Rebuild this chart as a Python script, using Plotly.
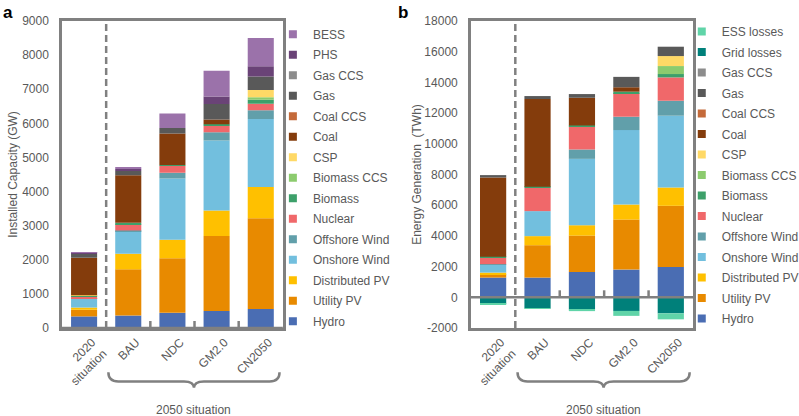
import plotly.graph_objects as go

# ---- data -------------------------------------------------------------
CATEGORIES = ["2020<br>situation", "BAU", "NDC", "GM2.0", "CN2050"]

# installed capacity (GW)
cap_hydro = [340, 365, 445, 500, 560]
cap_utility_pv = [195, 1355, 1600, 2195, 2660]
cap_distributed_pv = [65, 455, 545, 750, 915]
cap_onshore = [265, 665, 1795, 2055, 1990]
cap_offshore = [10, 20, 165, 235, 255]
cap_nuclear = [50, 185, 205, 195, 195]
cap_biomass = [30, 40, 20, 40, 115]
cap_biomass_ccs = [0, 0, 0, 0, 75]
cap_csp = [5, 0, 0, 0, 215]
cap_coal = [1100, 1395, 925, 145, 0]
cap_coal_ccs = [0, 0, 0, 0, 0]
cap_gas = [115, 125, 165, 455, 390]
cap_gas_ccs = [0, 0, 0, 0, 0]
cap_phs = [30, 55, 0, 220, 300]
cap_bess = [10, 60, 420, 755, 830]

# energy generation (TWh)
gen_hydro = [1285, 1285, 1650, 1805, 1980]
gen_utility_pv = [215, 2110, 2370, 3260, 3980]
gen_distributed_pv = [110, 590, 675, 980, 1195]
gen_onshore = [540, 1630, 4325, 4850, 4675]
gen_offshore = [10, 0, 610, 870, 975]
gen_nuclear = [410, 1520, 1500, 1540, 1520]
gen_biomass = [65, 65, 65, 90, 220]
gen_biomass_ccs = [0, 0, 0, 0, 520]
gen_csp = [0, 0, 0, 0, 650]
gen_coal = [5170, 5715, 1805, 290, 0]
gen_coal_ccs = [0, 0, 0, 0, 0]
gen_gas = [155, 195, 240, 675, 610]
gen_gas_ccs = [0, 0, 0, 0, 0]
gen_grid_losses = [-430, -720, -780, -890, -1045]
gen_ess_losses = [-40, -30, -120, -320, -390]

CAP_TICKS = [0, 1000, 2000, 3000, 4000, 5000, 6000, 7000, 8000, 9000]
GEN_TICKS = [-2000, 0, 2000, 4000, 6000, 8000, 10000, 12000, 14000, 16000, 18000]

# ---- colours ----------------------------------------------------------
COLORS = {
    "Hydro": "#4A6DB3",
    "Utility PV": "#E88A00",
    "Distributed PV": "#FFC000",
    "Onshore Wind": "#72BFDE",
    "Offshore Wind": "#619FAA",
    "Nuclear": "#F0686A",
    "Biomass": "#3DA06A",
    "Biomass CCS": "#8CCB6E",
    "CSP": "#FFD966",
    "Coal": "#843C0C",
    "Coal CCS": "#C46A3A",
    "Gas": "#595959",
    "Gas CCS": "#8C8C8C",
    "PHS": "#6A4377",
    "BESS": "#9B72AA",
    "Grid losses": "#00807A",
    "ESS losses": "#60D4A8",
}

cap_series = [
    ("Hydro", cap_hydro), ("Utility PV", cap_utility_pv),
    ("Distributed PV", cap_distributed_pv), ("Onshore Wind", cap_onshore),
    ("Offshore Wind", cap_offshore), ("Nuclear", cap_nuclear),
    ("Biomass", cap_biomass), ("Biomass CCS", cap_biomass_ccs),
    ("CSP", cap_csp), ("Coal", cap_coal), ("Coal CCS", cap_coal_ccs),
    ("Gas", cap_gas), ("Gas CCS", cap_gas_ccs), ("PHS", cap_phs),
    ("BESS", cap_bess),
]
gen_series = [
    ("Hydro", gen_hydro), ("Utility PV", gen_utility_pv),
    ("Distributed PV", gen_distributed_pv), ("Onshore Wind", gen_onshore),
    ("Offshore Wind", gen_offshore), ("Nuclear", gen_nuclear),
    ("Biomass", gen_biomass), ("Biomass CCS", gen_biomass_ccs),
    ("CSP", gen_csp), ("Coal", gen_coal), ("Coal CCS", gen_coal_ccs),
    ("Gas", gen_gas), ("Gas CCS", gen_gas_ccs),
    ("Grid losses", gen_grid_losses), ("ESS losses", gen_ess_losses),
]

TEXT = "#595959"
FRAME = "#808080"
FONT = "Liberation Sans, Arial, sans-serif"

fig = go.Figure()


def add_panel(series, xa, ya, legend_id, prefix):
    n = len(series)
    for i, (name, vals) in enumerate(series):
        fig.add_trace(go.Bar(
            x=CATEGORIES, y=vals, name=name, xaxis=xa, yaxis=ya,
            marker=dict(color=COLORS[name], line=dict(width=0)),
            showlegend=False,
        ))
        # small square legend swatch (top of stack listed first)
        fig.add_trace(go.Scatter(
            x=[None], y=[None], name=name, xaxis=xa, yaxis=ya,
            mode="markers",
            marker=dict(symbol="square", size=8, color=COLORS[name]),
            legend=legend_id, legendgroup=prefix + name,
            legendrank=n - i,
        ))


add_panel(cap_series, "x", "y", "legend", "a")
add_panel(gen_series, "x2", "y2", "legend2", "b")

axis_common = dict(
    showline=True, linecolor=FRAME, linewidth=2.5, mirror=True,
    showgrid=False, zeroline=False,
    tickfont=dict(size=12, color=TEXT, family=FONT),
)

legend_common = dict(
    font=dict(size=12, color=TEXT, family=FONT),
    traceorder="grouped", tracegroupgap=1.5, maxheight=400,
    bgcolor="rgba(0,0,0,0)", xanchor="left", yanchor="top",
)

fig.update_layout(
    width=799, height=416,
    margin=dict(l=62, r=106, t=21, b=88, autoexpand=False),
    paper_bgcolor="white", plot_bgcolor="white",
    barmode="relative", bargap=0.41,
    font=dict(family=FONT, color=TEXT, size=12),
    xaxis=dict(domain=[0, 0.350], anchor="y", tickangle=-45, ticks="",
               ticklabelshift=8, **axis_common),
    yaxis=dict(domain=[0, 1], anchor="x", range=[0, 9000],
               tickvals=CAP_TICKS, ticktext=[str(v) for v in CAP_TICKS],
               ticks="", ticklabelstandoff=8,
               title=dict(text="Installed Capacity (GW)",
                          font=dict(size=12, color=TEXT, family=FONT),
                          standoff=2),
               **axis_common),
    xaxis2=dict(domain=[0.648, 1.0], anchor="y2", tickangle=-45, ticks="",
                ticklabelshift=8, **axis_common),
    yaxis2=dict(domain=[0, 1], anchor="x2", range=[-2000, 18000],
                tickvals=GEN_TICKS, ticktext=[str(v) for v in GEN_TICKS],
                ticks="", ticklabelstandoff=8,
                title=dict(text="Energy Generation  (TWh)",
                           font=dict(size=12, color=TEXT, family=FONT),
                           standoff=1),
                **axis_common),
    legend=dict(x=0.3342, y=1.004, **legend_common),
    legend2=dict(x=0.9822, y=1.013, **legend_common),
    showlegend=True,
)

shapes = []
for xr, yr, dom in (("x", "y", "x domain"), ("x2", "y2", "x2 domain")):
    # dashed separator between 2020 and 2050 scenarios
    shapes.append(dict(type="line", xref=xr, yref=yr + " domain",
                       x0=0.5, x1=0.5, y0=0, y1=1,
                       line=dict(color=FRAME, width=2.5, dash="7px,4px")))
    # zero line and small ticks between the 2050 scenarios
    shapes.append(dict(type="line", xref=dom, yref=yr, x0=0, x1=1, y0=0, y1=0,
                       line=dict(color=FRAME, width=2.5)))
    for i in range(1, len(CATEGORIES) - 1):
        shapes.append(dict(type="line", xref=xr, yref=yr, x0=i + 0.5,
                           x1=i + 0.5, ysizemode="pixel", yanchor=0,
                           y0=0, y1=7, line=dict(color=FRAME, width=2.5)))
    # curly brace under 2050 scenarios
    left, right, mid, d = 0.21, 0.985, 0.5975, 0.045
    yt, yh, ytip = -0.144, -0.174, -0.195
    path = (f"M {left},{yt} Q {left},{yh} {left + d},{yh} "
            f"L {mid - d},{yh} Q {mid},{yh} {mid},{ytip} "
            f"Q {mid},{yh} {mid + d},{yh} L {right - d},{yh} "
            f"Q {right},{yh} {right},{yt}")
    shapes.append(dict(type="path", xref=dom, yref="paper", path=path,
                       line=dict(color=FRAME, width=2.5)))
fig.update_layout(shapes=shapes)

annotations = [
    dict(text="2050 situation", xref="x domain", yref="paper",
         x=0.5975, y=-0.268, yanchor="middle", showarrow=False,
         font=dict(size=12, color=TEXT, family=FONT)),
    dict(text="2050 situation", xref="x2 domain", yref="paper",
         x=0.5975, y=-0.268, yanchor="middle", showarrow=False,
         font=dict(size=12, color=TEXT, family=FONT)),
    dict(text="<b>a</b>", xref="paper", yref="paper", x=-0.096, y=1.066,
         xanchor="left", yanchor="top", showarrow=False,
         font=dict(size=17, color="black", family=FONT)),
    dict(text="<b>b</b>", xref="paper", yref="paper", x=0.529, y=1.066,
         xanchor="left", yanchor="top", showarrow=False,
         font=dict(size=17, color="black", family=FONT)),
]
fig.update_layout(annotations=annotations)

# page body has a default margin; remove it so the figure sits at the origin
fig.write_html(
    "out.html",
    config={"displayModeBar": False},
    post_script="document.body.style.margin='0';"
                "document.body.style.overflow='hidden';",
)
